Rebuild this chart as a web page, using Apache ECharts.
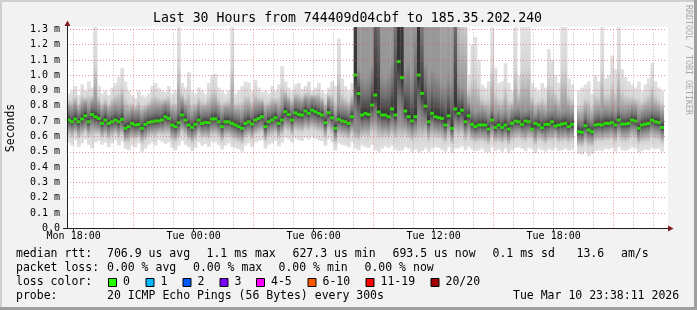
<!DOCTYPE html>
<html><head><meta charset="utf-8">
<script src="https://cdn.jsdelivr.net/npm/echarts@6/dist/echarts.min.js"></script>
<style>html,body{margin:0;padding:0;background:#f2f2f2}#c{width:697px;height:310px}</style>
</head><body><div id="c"></div>
<script>
// ---- data (times in minutes from Mon 00:00, values in microseconds) ----
const START = 1060;            // Mon 17:40
const END = 2860;              // Tue 23:40
const STEP = 10;               // minutes per column
const labelTimes = [1080, 1440, 1800, 2160, 2520];
const timeLabels = ['Mon 18:00', 'Tue 00:00', 'Tue 06:00', 'Tue 12:00', 'Tue 18:00'];

const medianUs = [
707,696,714,696,714,735,696,744,729,718,
685,707,685,696,707,696,712,653,664,685,
675,679,653,679,692,696,701,701,707,729,
718,675,664,690,740,707,675,659,679,707,
685,692,690,714,715,696,664,696,696,685,
675,664,653,685,696,681,707,718,729,664,
696,707,722,685,707,762,744,707,755,744,
740,766,751,772,762,751,740,690,755,722,
653,712,701,696,685,729,1001,880,740,751,
744,805,870,760,740,740,729,780,740,1089,
984,766,729,701,729,1001,881,798,696,751,
729,722,718,675,735,653,779,751,772,696,
735,679,664,675,675,675,648,707,659,675,
659,675,648,685,700,696,679,701,696,648,
685,675,657,679,679,696,668,675,681,685,
664,679,null,631,627,670,642,631,675,679,
675,685,685,692,675,707,681,681,685,707,
701,653,675,681,685,707,696,692,659];

const minUs = [
560,540,575,530,555,580,545,520,560,570,
545,560,530,555,575,540,565,520,510,540,
530,555,500,520,545,560,540,575,565,550,
560,525,510,540,570,545,530,505,525,560,
540,550,530,565,560,545,515,540,555,530,
525,515,500,540,555,530,560,570,575,520,
545,555,570,535,560,590,580,560,585,575,
570,590,580,595,585,575,570,540,580,560,
510,555,545,540,530,560,520,510,540,530,
525,545,510,500,520,535,525,540,515,505,
510,530,520,500,515,495,505,520,500,520,
530,525,510,500,530,495,520,525,535,510,
530,515,505,510,520,500,495,530,505,515,
500,520,495,510,525,530,520,505,525,515,
490,520,510,500,515,510,525,505,510,520,
505,515,null,485,480,500,470,485,505,510,
505,520,515,525,500,530,510,505,515,530,
520,495,505,515,510,525,515,520,500];

const lowQuartUs = [
650,640,655,635,650,665,640,670,660,655,
630,645,625,640,650,635,650,600,610,625,
620,625,600,620,635,640,645,650,650,665,
660,620,610,630,670,650,615,600,620,650,
630,635,630,650,655,640,610,640,640,630,
620,610,600,630,640,625,650,660,665,610,
640,650,660,630,650,690,680,650,685,680,
675,695,685,700,690,680,675,635,685,660,
600,650,645,640,630,660,640,630,650,660,
655,690,700,670,650,655,645,670,650,680,
670,670,650,630,650,680,670,680,630,665,
650,645,640,615,655,600,680,665,675,630,
655,620,610,615,615,615,595,640,605,615,
600,615,590,625,635,640,625,620,635,630,
595,625,615,600,620,620,635,610,615,620,
610,620,null,580,575,610,590,580,615,620,
615,625,625,630,615,645,620,620,625,645,
640,600,615,620,625,645,635,630,605];

const highQuartUs = [
790,780,800,770,800,815,785,820,830,800,
770,790,765,780,795,785,810,745,750,770,
760,765,740,760,775,785,790,790,795,810,
800,765,755,800,830,790,760,745,765,790,
770,775,775,800,805,785,755,780,780,790,
760,755,745,775,785,770,795,800,810,760,
780,790,800,775,800,845,825,795,835,825,
820,845,830,850,840,830,820,775,835,805,
745,800,790,785,775,815,4000,1050,1000,980,
1000,1080,2200,1900,1000,980,1020,1100,1800,9000,
7000,1050,1100,1000,1300,9000,1600,1080,1000,1050,
1020,1000,950,940,1000,980,1900,950,920,900,
820,780,760,770,775,760,740,790,750,760,
745,765,740,770,780,790,780,765,785,780,
740,770,760,745,770,775,785,760,765,770,
775,760,null,720,715,760,735,720,760,770,
765,775,770,780,760,790,770,765,775,790,
785,745,760,770,775,790,780,775,750];

const maxUs = [
880,900,930,870,940,900,960,920,1320,930,
880,900,870,920,950,990,1050,960,900,870,
850,900,870,860,880,930,950,920,900,890,
930,880,900,1320,950,920,1020,900,880,920,
900,880,950,1000,1010,920,900,880,900,1320,
880,900,930,960,950,900,970,920,890,900,
880,930,900,940,1060,960,920,900,940,950,
910,930,960,900,920,950,900,880,920,960,
930,1240,980,930,900,950,12000,15000,16000,15000,
18000,16000,20000,20000,15000,14000,16000,18000,20000,20000,
20000,15000,16000,14000,18000,20000,20000,16000,15000,17000,
15000,14000,4500,4200,5500,5000,20000,2200,2000,1900,
1000,1200,1250,1100,940,920,960,1320,1050,950,
960,1080,950,900,1320,1000,1320,1320,1320,950,
920,900,950,920,1170,1100,1000,950,1320,1320,
980,940,null,900,920,940,960,880,1000,960,
1320,980,1000,1130,1040,1320,1040,990,960,940,
920,960,900,940,980,1080,960,920,900];

// ---- styling constants ----
const MONO = '"DejaVu Sans Mono", monospace';
const Y_CLIP = 1.315;   // top of the drawing canvas (ms)
const G_OUT = 226, G_OUT2 = 214, G_Q = 150, G_IN = 112, G_MED = 51;   // gray levels of the smoke
const GREEN = '#26ff00';

const smokeData = medianUs.map((m, i) => m == null
  ? [START + i * STEP, '-', '-', '-', '-', '-']
  : [START + i * STEP, minUs[i] / 1000, lowQuartUs[i] / 1000, m / 1000, highQuartUs[i] / 1000, maxUs[i] / 1000]);
const medData = medianUs.map((m, i) => m == null ? [START + i * STEP + STEP / 2, '-'] : [START + i * STEP + STEP / 2, m / 1000]);

function gray(g) { g = Math.round(g); return 'rgb(' + g + ',' + g + ',' + g + ')'; }

function renderSmoke(params, api) {
  const t = api.value(0);
  const lo = api.value(1), q1 = api.value(2), md = api.value(3), q3 = api.value(4), hi = api.value(5);
  if (isNaN(lo)) return null;
  const x0 = api.coord([t, 0])[0], x1 = api.coord([t + STEP, 0])[0];
  const yLo = api.coord([t, lo])[1], yQ1 = api.coord([t, q1])[1], yMd = api.coord([t, md])[1];
  const yQ3 = api.coord([t, q3])[1], yHi = api.coord([t, hi])[1];
  const yClip = api.coord([t, Y_CLIP])[1];
  // key points (pixel y, gray level), top to bottom
  const keys = [
    [yHi, G_OUT], [yHi + 0.5 * (yQ3 - yHi), G_OUT2], [yQ3, G_Q], [yQ3 + 0.5 * (yMd - yQ3), G_IN],
    [yMd, G_MED], [yMd + 0.5 * (yQ1 - yMd), G_IN], [yQ1, G_Q], [yQ1 + 0.5 * (yLo - yQ1), G_OUT2], [yLo, G_OUT]
  ];
  const top = Math.max(yHi, yClip);
  const h = yLo - top;
  if (h <= 0) return null;
  const grayAt = y => {
    for (let k = 1; k < keys.length; k++) {
      if (y <= keys[k][0]) {
        const a = keys[k - 1], b = keys[k];
        const f = b[0] > a[0] ? (y - a[0]) / (b[0] - a[0]) : 1;
        return a[1] + f * (b[1] - a[1]);
      }
    }
    return G_OUT;
  };
  const stops = [{ offset: 0, color: gray(grayAt(top)) }];
  keys.forEach(([y, g]) => { if (y > top) stops.push({ offset: Math.min(1, (y - top) / h), color: gray(g) }); });
  return {
    type: 'rect',
    shape: { x: x0, y: top, width: x1 - x0 + 0.4, height: h },
    style: { fill: new echarts.graphic.LinearGradient(0, 0, 0, 1, stops, false) }
  };
}

// vertical grid lines every hour; major (red) every 6 h at 21,03,09,15,21
const vLines = [];
for (let hr = 18; hr <= 47; hr++) {
  const major = (hr % 6) === 3;
  vLines.push({
    xAxis: hr * 60,
    lineStyle: major
      ? { color: 'rgba(222,79,79,0.6)', type: [1, 2], width: 1 }
      : { color: 'rgba(143,143,143,0.6)', type: [1, 2], width: 1 }
  });
}

const chart = echarts.init(document.getElementById('c'), null, { renderer: 'canvas' });

function txt(x, y, s, opt) {
  opt = opt || {};
  return {
    type: 'text', x: x, y: y, z: 20, rotation: opt.rot || 0,
    style: {
      text: s, fill: opt.color || '#000', font: (opt.size || 11.5) + 'px ' + MONO,
      align: opt.align || 'left', verticalAlign: 'middle',
      textAlign: opt.align || 'left', textVerticalAlign: 'middle'
    }
  };
}

const legendLines = [
  [254.5, [[16, 'median rtt:'], [107, '706.9 us avg'], [206.5, '1.1 ms max'], [292.5, '627.3 us min'], [392.5, '693.5 us now'], [492.5, '0.1 ms sd'], [576.5, '13.6'], [621, 'am/s']]],
  [268.5, [[16, 'packet loss:'], [107, '0.00 % avg'], [193, '0.00 % max'], [278.5, '0.00 % min'], [364.5, '0.00 % now']]],
  [282.5, [[16, 'loss color:']]],
  [296.5, [[16, 'probe:'], [107, '20 ICMP Echo Pings (56 Bytes) every 300s'], [513, 'Tue Mar 10 23:38:11 2026']]]
];
const lossLabels = ['0', '1', '2', '3', '4-5', '6-10', '11-19', '20/20'];
const lossColors = ['#26ff00', '#00b8ff', '#0059ff', '#7e00ff', '#ff00ff', '#ff5500', '#ff0000', '#a10000'];
const lossBoxX = [108, 145.5, 182.5, 219.5, 256, 307.5, 365.5, 430.5];

const graphics = [
  { type: 'rect', z: -5, shape: { x: 67, y: 26.5, width: 601, height: 202 }, style: { fill: '#ffffff' } },
  { type: 'rect', z: 30, shape: { x: 0, y: 0, width: 697, height: 2 }, style: { fill: '#cfcfcf' } },
  { type: 'rect', z: 30, shape: { x: 0, y: 0, width: 2, height: 310 }, style: { fill: '#cfcfcf' } },
  { type: 'rect', z: 30, shape: { x: 0, y: 307, width: 697, height: 3 }, style: { fill: '#9e9e9e' } },
  { type: 'rect', z: 30, shape: { x: 694, y: 0, width: 3, height: 310 }, style: { fill: '#9e9e9e' } },
  // axis extensions + arrows
  { type: 'line', z: 20, shape: { x1: 67.5, y1: 29.5, x2: 67.5, y2: 23 }, style: { stroke: '#1f1f1f', lineWidth: 1 } },
  { type: 'line', z: 20, shape: { x1: 667, y1: 228.5, x2: 670, y2: 228.5 }, style: { stroke: '#1f1f1f', lineWidth: 1 } },
  { type: 'line', z: 20, shape: { x1: 63, y1: 228.5, x2: 67, y2: 228.5 }, style: { stroke: '#1f1f1f', lineWidth: 1 } },
  { type: 'polygon', z: 21, shape: { points: [[64.5, 26], [70.5, 26], [67.5, 20.5]] }, style: { fill: '#801f1f' } },
  { type: 'polygon', z: 21, shape: { points: [[668, 225.5], [668, 231.5], [673.5, 228.5]] }, style: { fill: '#801f1f' } },
  txt(347.5, 19, 'Last 30 Hours from 744409d04cbf to 185.35.202.240', { size: 13.2, align: 'center' }),
  txt(11, 128, 'Seconds', { rot: Math.PI / 2, align: 'center', size: 11.5 }),
  txt(688, 60, 'RRDTOOL / TOBI OETIKER', { rot: -Math.PI / 2, align: 'center', size: 8.3, color: '#a8a8a8' })
];
legendLines.forEach(([y, items]) => items.forEach(([x, s]) => graphics.push(txt(x, y, s))));
lossLabels.forEach((lab, k) => {
  graphics.push({ type: 'rect', z: 20, shape: { x: lossBoxX[k] + 0.5, y: 278.5, width: 8, height: 8 }, style: { fill: lossColors[k], stroke: '#000', lineWidth: 1 } });
  graphics.push(txt(lossBoxX[k] + 15, 282.5, lab));
});

chart.setOption({
  animation: false,
  backgroundColor: '#f2f2f2',
  grid: { left: 67, top: 29.3, width: 600, height: 199, containLabel: false },
  xAxis: {
    type: 'value', min: START, max: END, z: 10,
    axisLine: { show: true, lineStyle: { color: '#1f1f1f', width: 1 } },
    axisTick: { show: true, customValues: labelTimes, length: 3, lineStyle: { color: '#1f1f1f' } },
    splitLine: { show: false },
    axisLabel: {
      customValues: labelTimes, margin: 3, color: '#000', fontFamily: MONO, fontSize: 10,
      formatter: v => { const k = labelTimes.indexOf(v); return k >= 0 ? timeLabels[k] : ''; }
    }
  },
  yAxis: {
    type: 'value', min: 0, max: 1.3, interval: 0.1, z: 10,
    axisLine: { show: true, lineStyle: { color: '#1f1f1f', width: 1 } },
    axisTick: { show: false },
    splitLine: { show: true, lineStyle: { color: 'rgba(222,79,79,0.6)', type: [1, 2], width: 1 } },
    axisLabel: {
      margin: 7, color: '#000', fontFamily: MONO, fontSize: 10,
      formatter: v => (Math.abs(v) < 1e-9 ? '0.0' : v.toFixed(1) + ' m')
    }
  },
  series: [
    {
      type: 'custom', name: 'smoke', data: smokeData, renderItem: renderSmoke, clip: false, z: 2,
      encode: { x: 0, y: 3 }, silent: true
    },
    {
      type: 'scatter', name: 'median', data: medData, symbol: 'rect', symbolSize: [3.8, 3],
      itemStyle: { color: GREEN }, z: 5, silent: true,
      markLine: { silent: true, symbol: ['none', 'none'], label: { show: false }, data: vLines, animation: false }
    }
  ],
  graphic: graphics
});
</script>
</body></html>
